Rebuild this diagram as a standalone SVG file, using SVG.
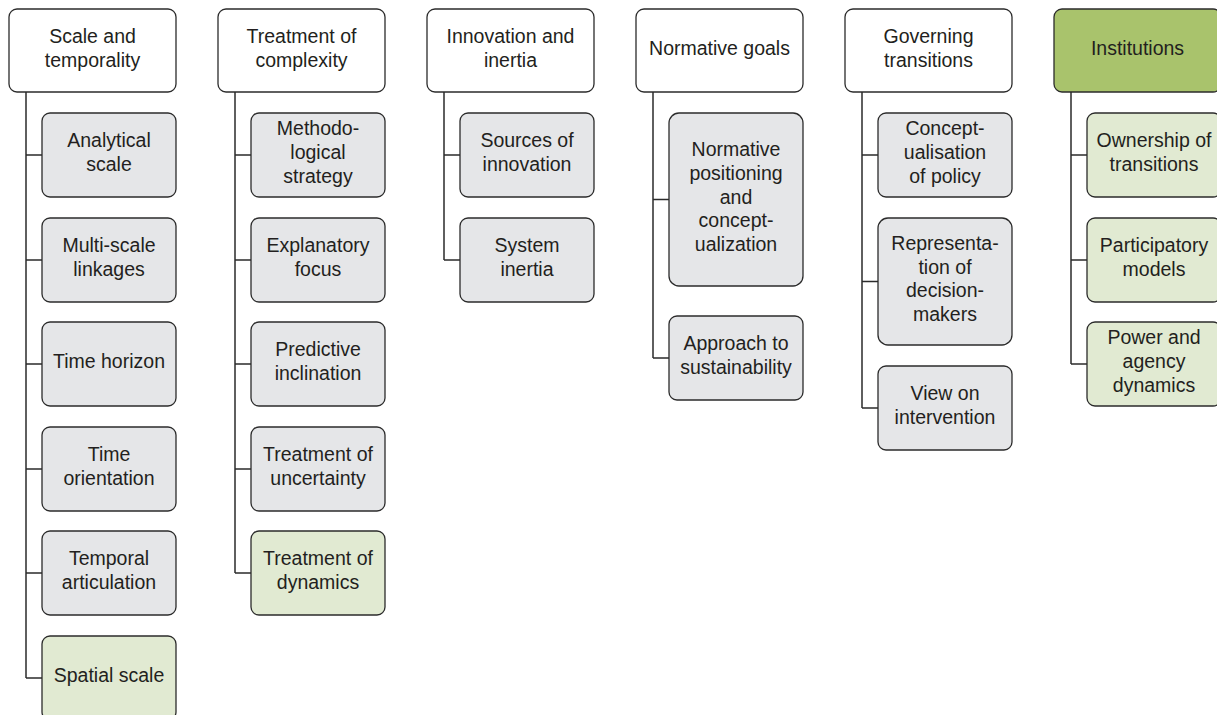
<svg xmlns="http://www.w3.org/2000/svg" width="1217" height="715" viewBox="0 0 1217 715">
<style>
text{font-family:"Liberation Sans",Arial,sans-serif;font-size:19.5px;fill:#231f20;text-anchor:middle}
.hd{fill:#ffffff;stroke:#2b2b2b;stroke-width:1.3}
.hg{fill:#a9c36c;stroke:#2b2b2b;stroke-width:1.3}
.ch{fill:#e5e6e8;stroke:#2b2b2b;stroke-width:1.3}
.cg{fill:#e1ead2;stroke:#2b2b2b;stroke-width:1.3}
.ln{fill:none;stroke:#2b2b2b;stroke-width:1.5}
</style>
<rect width="1217" height="715" fill="#ffffff"/>
<g id="connectors">
<path class="ln" d="M26,92V678M26,155H42M26,260H42M26,364H42M26,469H42M26,573H42M26,678H42"/>
<path class="ln" d="M235,92V573M235,155H251M235,260H251M235,364H251M235,469H251M235,573H251"/>
<path class="ln" d="M444,92V260M444,155H460M444,260H460"/>
<path class="ln" d="M653,92V358M653,199.5H669M653,358H669"/>
<path class="ln" d="M862,92V408M862,155H878M862,281.5H878M862,408H878"/>
<path class="ln" d="M1071,92V364M1071,155H1087M1071,260H1087M1071,364H1087"/>
</g>
<g id="h1"><rect class="hd" x="9" y="9" width="167" height="83" rx="8"/><text x="92.5" y="43">Scale and</text><text x="92.5" y="67">temporality</text></g>
<g id="h2"><rect class="hd" x="218" y="9" width="167" height="83" rx="8"/><text x="301.5" y="43">Treatment of</text><text x="301.5" y="67">complexity</text></g>
<g id="h3"><rect class="hd" x="427" y="9" width="167" height="83" rx="8"/><text x="510.5" y="43">Innovation and</text><text x="510.5" y="67">inertia</text></g>
<g id="h4"><rect class="hd" x="636" y="9" width="167" height="83" rx="8"/><text x="719.5" y="55">Normative goals</text></g>
<g id="h5"><rect class="hd" x="845" y="9" width="167" height="83" rx="8"/><text x="928.5" y="43">Governing</text><text x="928.5" y="67">transitions</text></g>
<g id="h6"><rect class="hg" x="1054" y="9" width="167" height="83" rx="8"/><text x="1137.5" y="55">Institutions</text></g>

<g id="c1a"><rect class="ch" x="42" y="113" width="134" height="84" rx="8"/><text x="109" y="147.2">Analytical</text><text x="109" y="170.9">scale</text></g>
<g id="c1b"><rect class="ch" x="42" y="218" width="134" height="84" rx="8"/><text x="109" y="252.2">Multi-scale</text><text x="109" y="275.9">linkages</text></g>
<g id="c1c"><rect class="ch" x="42" y="322" width="134" height="84" rx="8"/><text x="109" y="368">Time horizon</text></g>
<g id="c1d"><rect class="ch" x="42" y="427" width="134" height="84" rx="8"/><text x="109" y="461.2">Time</text><text x="109" y="484.9">orientation</text></g>
<g id="c1e"><rect class="ch" x="42" y="531" width="134" height="84" rx="8"/><text x="109" y="565.2">Temporal</text><text x="109" y="588.9">articulation</text></g>
<g id="c1f"><rect class="cg" x="42" y="636" width="134" height="84" rx="8"/><text x="109" y="682">Spatial scale</text></g>

<g id="c2a"><rect class="ch" x="251" y="113" width="134" height="84" rx="8"/><text x="318" y="135.3">Methodo-</text><text x="318" y="159">logical</text><text x="318" y="182.7">strategy</text></g>
<g id="c2b"><rect class="ch" x="251" y="218" width="134" height="84" rx="8"/><text x="318" y="252.2">Explanatory</text><text x="318" y="275.9">focus</text></g>
<g id="c2c"><rect class="ch" x="251" y="322" width="134" height="84" rx="8"/><text x="318" y="356.2">Predictive</text><text x="318" y="379.9">inclination</text></g>
<g id="c2d"><rect class="ch" x="251" y="427" width="134" height="84" rx="8"/><text x="318" y="461.2">Treatment of</text><text x="318" y="484.9">uncertainty</text></g>
<g id="c2e"><rect class="cg" x="251" y="531" width="134" height="84" rx="8"/><text x="318" y="565.2">Treatment of</text><text x="318" y="588.9">dynamics</text></g>

<g id="c3a"><rect class="ch" x="460" y="113" width="134" height="84" rx="8"/><text x="527" y="147.2">Sources of</text><text x="527" y="170.9">innovation</text></g>
<g id="c3b"><rect class="ch" x="460" y="218" width="134" height="84" rx="8"/><text x="527" y="252.2">System</text><text x="527" y="275.9">inertia</text></g>

<g id="c4a"><rect class="ch" x="669" y="113" width="134" height="173" rx="10"/><text x="736" y="156.1">Normative</text><text x="736" y="179.8">positioning</text><text x="736" y="203.5">and</text><text x="736" y="227.2">concept-</text><text x="736" y="250.9">ualization</text></g>
<g id="c4b"><rect class="ch" x="669" y="316" width="134" height="84" rx="8"/><text x="736" y="350.2">Approach to</text><text x="736" y="373.9">sustainability</text></g>

<g id="c5a"><rect class="ch" x="878" y="113" width="134" height="84" rx="8"/><text x="945" y="135.3">Concept-</text><text x="945" y="159">ualisation</text><text x="945" y="182.7">of policy</text></g>
<g id="c5b"><rect class="ch" x="878" y="218" width="134" height="127" rx="10"/><text x="945" y="250">Representa-</text><text x="945" y="273.7">tion of</text><text x="945" y="297.4">decision-</text><text x="945" y="321.1">makers</text></g>
<g id="c5c"><rect class="ch" x="878" y="366" width="134" height="84" rx="8"/><text x="945" y="400.2">View on</text><text x="945" y="423.9">intervention</text></g>

<g id="c6a"><rect class="cg" x="1087" y="113" width="134" height="84" rx="8"/><text x="1154" y="147.2">Ownership of</text><text x="1154" y="170.9">transitions</text></g>
<g id="c6b"><rect class="cg" x="1087" y="218" width="134" height="84" rx="8"/><text x="1154" y="252.2">Participatory</text><text x="1154" y="275.9">models</text></g>
<g id="c6c"><rect class="cg" x="1087" y="322" width="134" height="84" rx="8"/><text x="1154" y="344.3">Power and</text><text x="1154" y="368">agency</text><text x="1154" y="391.7">dynamics</text></g>
</svg>
